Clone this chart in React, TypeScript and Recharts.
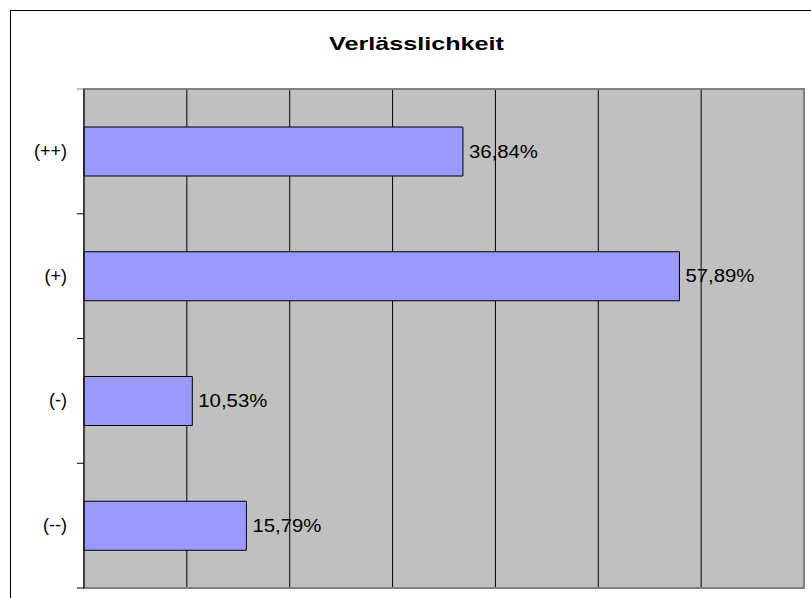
import React from 'react';
import {
  BarChart,
  Bar,
  XAxis,
  YAxis,
  CartesianGrid,
  LabelList,
  ReferenceArea,
} from 'recharts';

const title = 'Verlässlichkeit';
const categories = ['(++)', '(+)', '(-)', '(--)'];
const shares = [0.3684, 0.5789, 0.1053, 0.1579];
const gridTicks = [0, 0.1, 0.2, 0.3, 0.4, 0.5, 0.6];
const domainMax = 0.7;

const data = categories.map((cat, i) => ({ cat, value: shares[i] }));

const W = 811;
const H = 598;
const M = { top: 89, right: 7, bottom: 10, left: 0 };
const Y_W = 84;
const PLOT_H = H - M.top - M.bottom;
const BAND = PLOT_H / categories.length;
const FONT = '"Liberation Sans", Arial, sans-serif';

const fmt = (v: number) => (v * 100).toFixed(2).replace('.', ',') + '%';

const CatTick = (props: any) => {
  const { y, payload, index } = props;
  const axisX = Y_W;
  return (
    <g>
      <text
        x={axisX - 17}
        y={y + 5.5}
        textAnchor="end"
        fontSize={18}
        fontFamily={FONT}
        fill="#000"
      >
        {payload.value}
      </text>
      <line x1={axisX - 7} x2={axisX} y1={y + BAND / 2} y2={y + BAND / 2} stroke="#000" />
      {index === 0 && (
        <line x1={axisX - 7} x2={axisX} y1={y - BAND / 2} y2={y - BAND / 2} stroke="#808080" />
      )}
    </g>
  );
};

const ValueLabel = (props: any) => {
  const { x, y, width, height, value } = props;
  return (
    <text
      x={x + width + 6}
      y={y + height / 2 + 6}
      fontSize={18}
      fontFamily={FONT}
      fill="#000"
      textLength={69}
      lengthAdjust="spacingAndGlyphs"
    >
      {fmt(value)}
    </text>
  );
};

const gridGen = (props: any) => {
  const s = props?.xAxis?.scale;
  if (typeof s === 'function') return gridTicks.map((t) => s(t));
  if (s && typeof s.map === 'function') return gridTicks.map((t) => s.map(t));
  return [];
};

export default function App() {
  return (
    <div
      style={{
        position: 'absolute',
        left: 0,
        top: 0,
        width: W,
        height: H,
        overflow: 'hidden',
        background: '#fff',
      }}
    >
      <div
        style={{
          position: 'absolute',
          left: 10,
          top: 10,
          width: W + 40,
          height: H + 40,
          border: '1px solid #000',
          boxSizing: 'border-box',
        }}
      />
      <div style={{ position: 'absolute', left: 0, top: 0 }}>
        <BarChart width={W} height={H} data={data} layout="vertical" margin={M}>
          <CartesianGrid
            horizontal={false}
            vertical
            stroke="#000"
            strokeOpacity={1}
            fill="#C0C0C0"
            fillOpacity={1}
            verticalCoordinatesGenerator={gridGen}
          />
          <ReferenceArea
            x1={0}
            x2={domainMax}
            fill="none"
            stroke="#808080"
            strokeWidth={2}
            ifOverflow="visible"
          />
          <XAxis
            type="number"
            domain={[0, domainMax]}
            ticks={gridTicks}
            tick={() => <g />}
            tickLine={false}
            height={0}
            axisLine={false}
          />
          <YAxis
            type="category"
            dataKey="cat"
            width={Y_W}
            tickLine={false}
            axisLine={{ stroke: '#000' }}
            tick={<CatTick />}
            interval={0}
          />
          <Bar
            dataKey="value"
            fill="#9999FF"
            stroke="#000"
            strokeWidth={1}
            barSize={49}
            isAnimationActive={false}
          >
            <LabelList dataKey="value" content={<ValueLabel />} />
          </Bar>
        </BarChart>
      </div>
      <svg
        width={W}
        height={H}
        style={{ position: 'absolute', left: 0, top: 0, pointerEvents: 'none' }}
      >
        <text
          x={416.5}
          y={50}
          textAnchor="middle"
          fontSize={19}
          fontWeight="bold"
          fontFamily={FONT}
          fill="#000"
          textLength={175}
          lengthAdjust="spacingAndGlyphs"
        >
          {title}
        </text>
      </svg>
    </div>
  );
}
